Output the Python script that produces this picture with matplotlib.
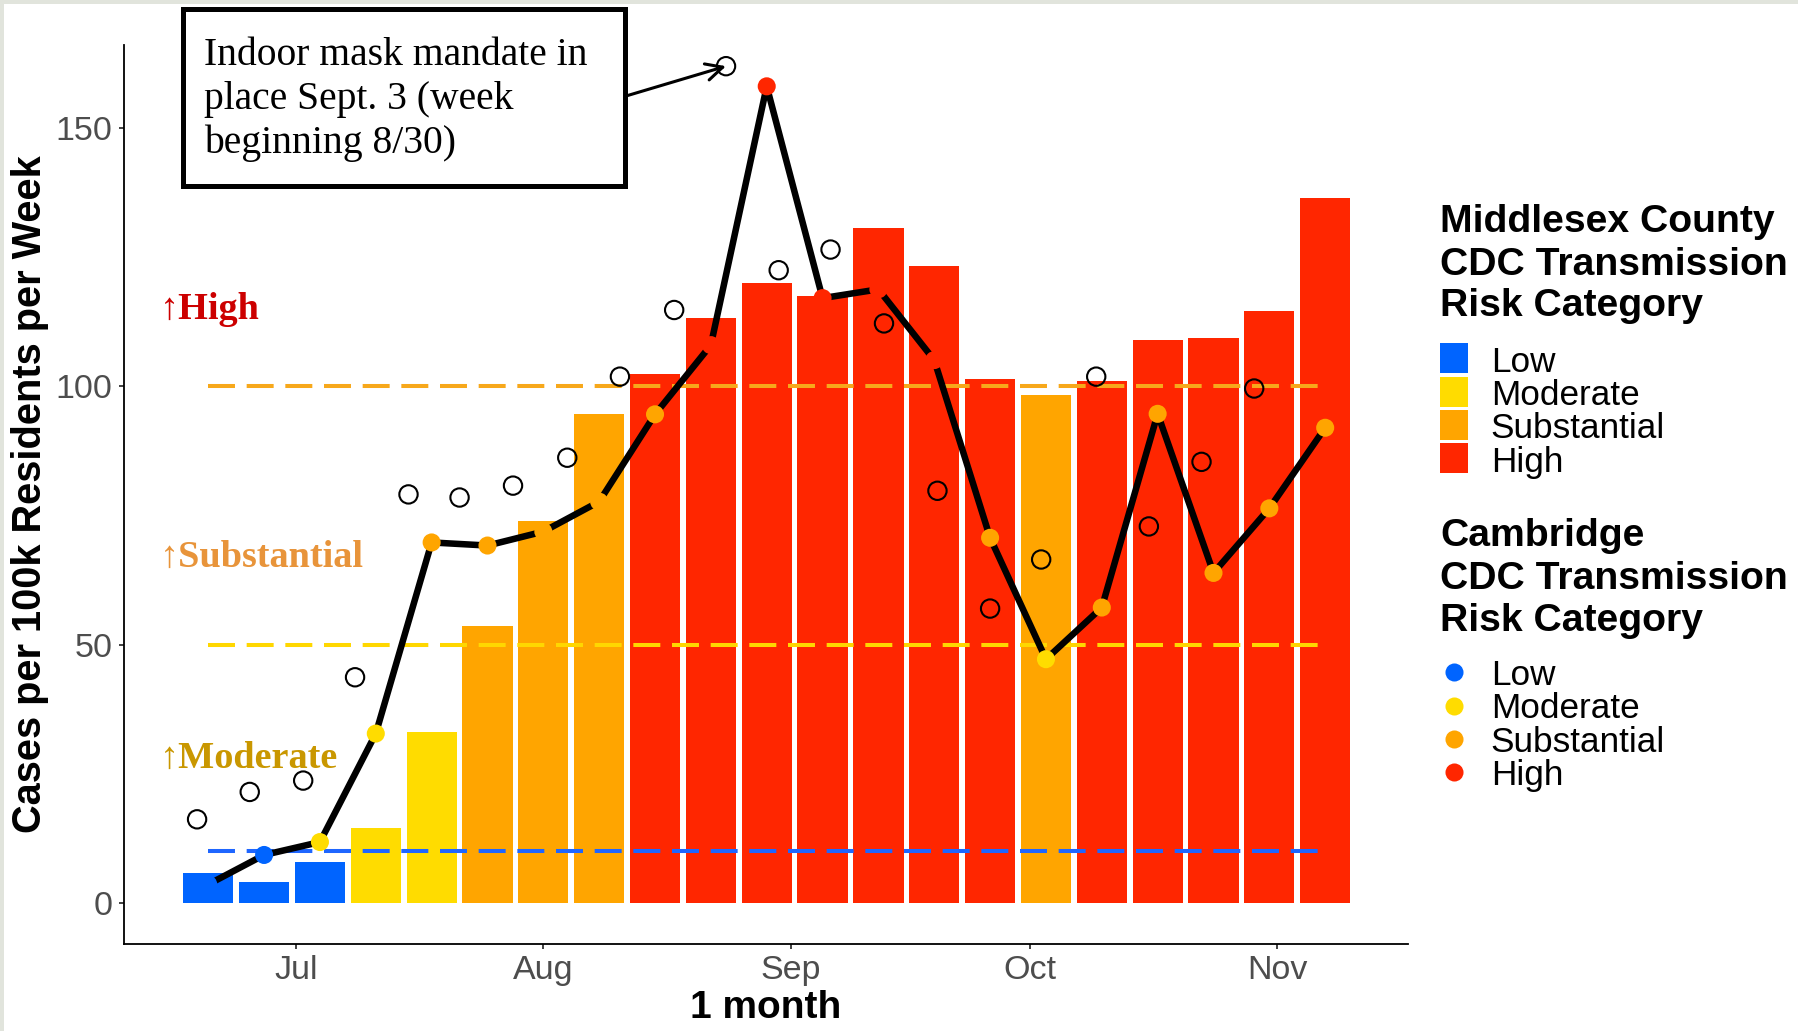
import matplotlib
matplotlib.use("Agg")
import matplotlib.pyplot as plt
import matplotlib.dates as mdates
from matplotlib.patches import Rectangle
import numpy as np

plt.rcParams['font.family'] = ['Liberation Sans', 'DejaVu Sans']

# week start dates
weeks = ["2021-06-20", "2021-06-27", "2021-07-04", "2021-07-11", "2021-07-18",
         "2021-07-25", "2021-08-01", "2021-08-08", "2021-08-15", "2021-08-22",
         "2021-08-29", "2021-09-05", "2021-09-12", "2021-09-19", "2021-09-26",
         "2021-10-03", "2021-10-10", "2021-10-17", "2021-10-24", "2021-10-31",
         "2021-11-07"]

# Middlesex County (bars)
county_rate = [5.9, 4.0, 8.0, 14.6, 33.1, 53.6, 74.0, 94.6, 102.4, 113.2, 120.0,
               117.6, 130.6, 123.4, 101.4, 98.3, 101.1, 109.0, 109.3, 114.6, 136.4]
county_cat = ["Low", "Low", "Low", "Moderate", "Moderate", "Substantial",
              "Substantial", "Substantial", "High", "High", "High", "High", "High",
              "High", "High", "Substantial", "High", "High", "High", "High", "High"]

# Cambridge (line + dots)
city_rate = [3.6, 9.3, 11.8, 32.8, 69.8, 69.2, 71.9, 77.7, 94.6, 108.0, 158.1,
             117.1, 118.8, 105.1, 70.7, 47.2, 57.2, 94.7, 63.9, 76.4, 92.0]
city_cat = ["Low", "Low", "Moderate", "Moderate", "Substantial", "Substantial",
            "Substantial", "Substantial", "Substantial", "High", "High", "High",
            "High", "High", "Substantial", "Moderate", "Substantial", "Substantial",
            "Substantial", "Substantial", "Substantial"]

# open circles (days after Jul 1, value)
circle_day = [-12.4, -5.8, 0.9, 7.4, 14.1, 20.5, 27.2, 34.0, 40.6, 47.4, 53.9,
              60.5, 67.0, 73.7, 80.4, 87.0, 93.4, 100.3, 106.9, 113.5, 120.1]
circle_rate = [16.2, 21.5, 23.7, 43.7, 79.1, 78.5, 80.8, 86.2, 101.9, 114.8, 162.0,
               122.5, 126.5, 112.2, 79.8, 57.0, 66.5, 101.9, 72.9, 85.4, 99.6]

categories = ["Low", "Moderate", "Substantial", "High"]
cat_colors = {"Low": "#0064FF", "Moderate": "#FFDC00",
              "Substantial": "#FFA500", "High": "#FF2600"}
thresholds = [10, 50, 100]
threshold_colors = ["#1E66FF", "#FFD700", "#F7A81B"]
level_labels = ["\u2191Moderate", "\u2191Substantial", "\u2191High"]
level_label_y = [26.1, 65.0, 113.0]
level_colors = ["#C99700", "#E8943A", "#CC0000"]

W, H = 1798, 1031
fig = plt.figure(figsize=(W / 100, H / 100), dpi=100)
fig.patch.set_facecolor("white")

ax = fig.add_axes([124 / W, 1 - 943.5 / H, (1408 - 124) / W, (943.5 - 45) / H])
jul1 = mdates.date2num(np.datetime64("2021-07-01"))
x = mdates.date2num(np.array(weeks, dtype="datetime64[D]"))
cx = jul1 + np.array(circle_day)

ax.bar(x, county_rate, width=6.3, color=[cat_colors[c] for c in county_cat], zorder=1)
ax.hlines(thresholds, x[0], x[-1], colors=threshold_colors, linewidth=2.9,
          linestyles=[(0, (6.7, 2.9))] * 3, zorder=2)
ax.plot(x, city_rate, color="black", lw=4.7, zorder=3)
ax.scatter(x, city_rate, s=13 ** 2, c=[cat_colors[c] for c in city_cat],
           linewidths=0, zorder=4)
ax.scatter(cx, circle_rate, s=13.2 ** 2, facecolors="none", edgecolors="black",
           linewidths=1.5, zorder=5)

for lab, yv, col in zip(level_labels, level_label_y, level_colors):
    ax.text(jul1 - 17.1, yv, lab, color=col, fontsize=27.5, fontweight="bold",
            family=["Liberation Serif", "DejaVu Serif"], ha="left", va="baseline")

ax.set_xlim(jul1 - 21.56, jul1 + 139.38)
ax.set_ylim(-7.84, 166.1)
ax.set_yticks([0, 50, 100, 150])
ax.xaxis.set_major_locator(mdates.MonthLocator(bymonth=[7, 8, 9, 10, 11]))
ax.xaxis.set_major_formatter(mdates.DateFormatter("%b"))
for s in ["top", "right"]:
    ax.spines[s].set_visible(False)
for s in ["left", "bottom"]:
    ax.spines[s].set_linewidth(1.3)
ax.tick_params(length=3.6, width=1.3, color="#333333", labelcolor="#4D4D4D",
               labelsize=24.5)
ax.tick_params(axis="y", pad=4.5)
ax.tick_params(axis="x", pad=5)
ax.set_facecolor("none")

# overlay in pixel coordinates for titles, legends and the note box
lax = fig.add_axes([0, 0, 1, 1], zorder=5)
lax.set_xlim(0, W)
lax.set_ylim(H, 0)
lax.axis("off")
lax.patch.set_alpha(0)

lax.add_patch(Rectangle((0, 0), W, 3.5, color="#E1E4DC", lw=0))
lax.add_patch(Rectangle((0, 0), 4, H, color="#E1E4DC", lw=0))

lax.text(30, 494, "Cases per 100k Residents per Week", rotation=90, ha="center",
         va="center", fontsize=28.6, fontweight="bold")
lax.text(766, 1018, "1 month", ha="center", va="baseline", fontsize=28,
         fontweight="bold")

# note box and arrow
lax.add_patch(Rectangle((182.5, 9.3), 442, 176.4, facecolor="white",
                        edgecolor="black", lw=3.6))
note = ["Indoor mask mandate in", "place Sept. 3 (week", "beginning 8/30)"]
for line, yb in zip(note, [65, 109.5, 153]):
    lax.text(204, yb, line, fontsize=28.5, family=["Liberation Serif", "DejaVu Serif"],
             ha="left", va="baseline")
ax.annotate("", xy=(cx[10], circle_rate[10]), xytext=(626, 96),
            textcoords=lax.transData,
            arrowprops=dict(arrowstyle="->", lw=2.2, color="black",
                            shrinkA=0, shrinkB=0, mutation_scale=30))

# legends
for line, yb in zip(["Middlesex County", "CDC Transmission", "Risk Category"],
                    [232, 274.6, 315.8]):
    lax.text(1440, yb, line, fontsize=28.2, fontweight="bold", ha="left", va="baseline")
for i, cat in enumerate(categories):
    yc = 358.3 + 33.3 * i
    lax.add_patch(Rectangle((1440, yc - 15), 28, 30, color=cat_colors[cat], lw=0))
    lax.text(1490.7, yc + 13.4, cat, fontsize=25.3, ha="left", va="baseline")

for line, yb in zip(["Cambridge", "CDC Transmission", "Risk Category"],
                    [546, 588.8, 630.7]):
    lax.text(1440, yb, line, fontsize=28.2, fontweight="bold", ha="left", va="baseline")
for i, cat in enumerate(categories):
    yc = 672.3 + 33.3 * i
    lax.plot([1454], [yc], "o", ms=13, color=cat_colors[cat], mew=0)
    lax.text(1490.7, yc + 12.7, cat, fontsize=25.3, ha="left", va="baseline")

fig.savefig("out.png", dpi=100)
